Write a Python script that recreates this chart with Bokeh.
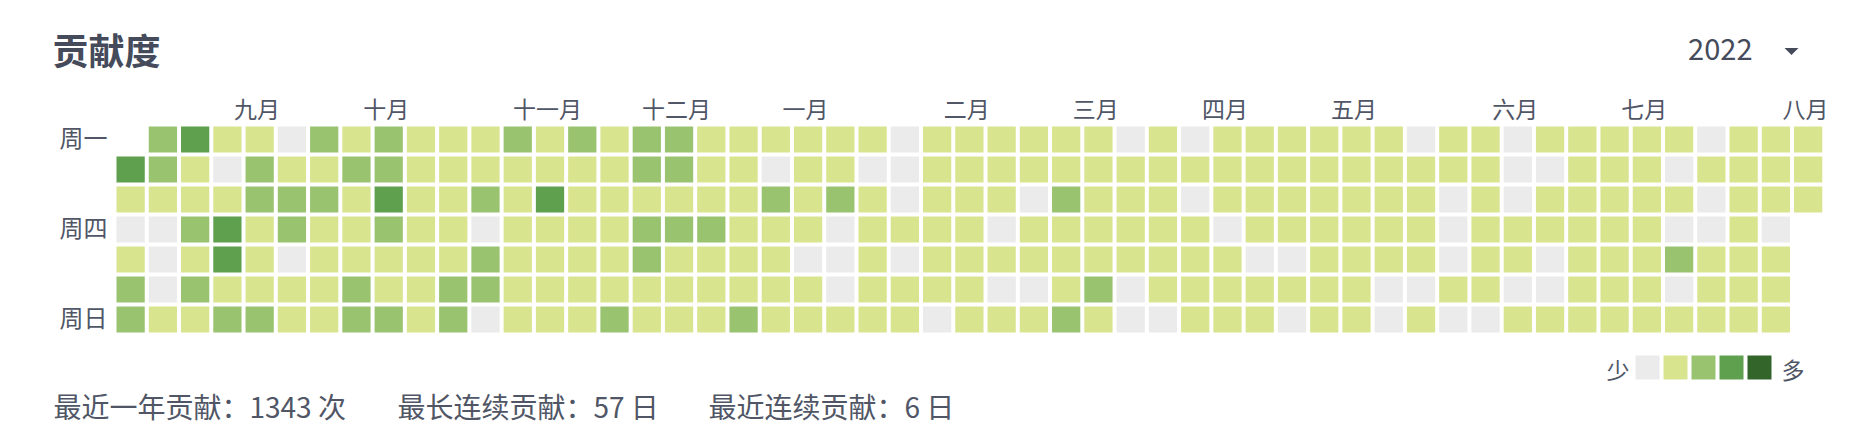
from bokeh.plotting import figure
from bokeh.models import Range1d, ColumnDataSource
from bokeh.embed import file_html
from bokeh.resources import INLINE
from bokeh.core.properties import value

# ---------------- data ----------------
# contribution level (0..4) per weekday row (Mon..Sun), one char per week column; '-' = no day
day_mon = "-" + "2311021211121" + "2122111111011" + "11110101111110" + "110111110111"
day_tue = "32102112211111" + "1122110110011" + "11111111111111" + "110011101111"
day_wed = "11112221311213" + "1111112121011" + "10211101111111" + "010111110111"
day_thu = "00231211211011" + "1122211101111" + "01111110111111" + "01111110010" + "-"
day_fri = "10131011111211" + "1121111001011" + "11111111001111" + "01101112111" + "-"
day_sat = "20211112112211" + "1111111101111" + "00120111111100" + "11001110111" + "-"
day_sun = "21122112212011" + "1211121111101" + "11210011101101" + "00111111111" + "-"
level_rows = [day_mon, day_tue, day_wed, day_thu, day_fri, day_sat, day_sun]

month_labels = ["九月", "十月", "十一月", "十二月", "一月", "二月", "三月", "四月", "五月", "六月", "七月", "八月"]
month_start_week = [4, 8, 13, 17, 21, 26, 30, 34, 38, 43, 47, 52]

weekday_labels = ["周一", "周四", "周日"]
weekday_rows = [0, 3, 6]

level_colors = ["#ebebeb", "#d9e48e", "#9ac370", "#5ea04d", "#33652a"]
legend_low, legend_high = "少", "多"

title_text = "贡献度"
year_text = "2022"
total_year = 1343
longest_streak = 57
current_streak = 6

# ---------------- layout ----------------
W, H = 1856, 436
OX, OY = 0, 0                 # page position of the figure's top-left corner
PX, PY = 32.26, 30.0          # pixels per week / per day
CX0, CY0 = 130.13, 139.0      # page position of centre of week 0 / Monday

def dx(page_x):
    return (page_x - CX0) / PX

def dy(page_y):
    return (page_y - CY0) / PY

FONT = value("Noto Sans CJK SC")
LABEL_COLOR = "#505666"
DARK = "#454b5a"

p = figure(width=W, height=H,
           x_range=Range1d(dx(OX), dx(OX + W)),
           y_range=Range1d(dy(OY + H), dy(OY)),
           output_backend="svg", toolbar_location=None,
           x_axis_location=None, y_axis_location=None,
           min_border=0, outline_line_color=None,
           background_fill_color="white", border_fill_color="white")
p.grid.visible = False

# cells
wk, dd, col = [], [], []
for d, row in enumerate(level_rows):
    for w, ch in enumerate(row):
        if ch == "-":
            continue
        wk.append(w)
        dd.append(d)
        col.append(level_colors[int(ch)])
src = ColumnDataSource(dict(week=wk, day=dd, color=col))
p.rect(x="week", y="day", width=1 - 4 / PX, height=1 - 4 / PY, source=src,
       fill_color="color", line_color=None)

# month labels
p.text(x=[m - 0.08 for m in month_start_week], y=[dy(107.5)] * len(month_labels),
       text=month_labels, text_font=FONT, text_font_size="23px", text_color=LABEL_COLOR,
       text_align="center", text_baseline="middle")

# weekday labels
p.text(x=[dx(107)] * len(weekday_labels), y=[r - 0.1 for r in weekday_rows],
       text=weekday_labels, text_font=FONT, text_font_size="24px", text_color=LABEL_COLOR,
       text_align="right", text_baseline="middle")

# title
p.text(x=[dx(52)], y=[dy(48)], text=[title_text], text_font=FONT, text_font_size="36px",
       text_font_style="bold", text_color=DARK, text_align="left", text_baseline="middle")

# year selector
p.text(x=[dx(1752)], y=[dy(49)], text=[year_text], text_font=FONT, text_font_size="29px",
       text_color=DARK, text_align="right", text_baseline="middle")
p.patch(x=[dx(1784), dx(1798), dx(1791)], y=[dy(47.5), dy(47.5), dy(54.5)],
        fill_color=DARK, line_color=None)

# legend
lx = [dx(1647 + 28 * i) for i in range(len(level_colors))]
p.rect(x=lx, y=[dy(367)] * len(lx), width=24 / PX, height=24 / PY,
       fill_color=level_colors, line_color=None)
p.text(x=[dx(1629)], y=[dy(368)], text=[legend_low], text_font=FONT, text_font_size="23px",
       text_color=LABEL_COLOR, text_align="right", text_baseline="middle")
p.text(x=[dx(1781)], y=[dy(368)], text=[legend_high], text_font=FONT, text_font_size="23px",
       text_color=LABEL_COLOR, text_align="left", text_baseline="middle")

# footer stats
footer = [f"最近一年贡献：{total_year} 次", f"最长连续贡献：{longest_streak} 日",
          f"最近连续贡献：{current_streak} 日"]
p.text(x=[dx(53), dx(397), dx(708)], y=[dy(405)] * 3, text=footer, text_font=FONT,
       text_font_size="28px", text_color=LABEL_COLOR, text_align="left", text_baseline="middle")

open("out.html", "w").write(file_html(p, INLINE))
